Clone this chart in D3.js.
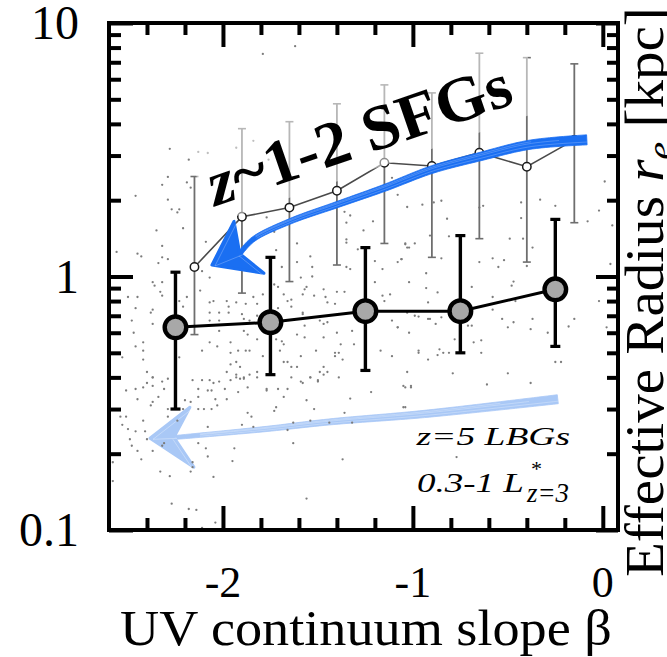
<!DOCTYPE html>
<html>
<head>
<meta charset="utf-8">
<script src="https://cdn.jsdelivr.net/npm/d3@7"></script>
<style>
  html, body { margin: 0; padding: 0; background: #fff; overflow: hidden; }
  svg { display: block; }
</style>
</head>
<body>
<svg id="chart" width="667" height="657"></svg>
<script>
// ---------------- data ----------------
// z=5 LBGs (0.3-1 L*), binned medians with 68% ranges
const lbgBeta = [-2.25, -1.75, -1.25, -0.75, -0.25];
const lbgRe   = [0.63, 0.66, 0.73, 0.73, 0.89];
const lbgHi   = [1.04, 1.19, 1.30, 1.45, 1.68];
const lbgLo   = [0.30, 0.41, 0.426, 0.50, 0.53];

// z~1-2 star-forming galaxies, binned medians with ranges
const sfgBeta = [-2.15, -1.9, -1.65, -1.4, -1.15, -0.9, -0.65, -0.4, -0.15];
const sfgRe   = [1.09, 1.72, 1.87, 2.18, 2.81, 2.73, 3.08, 2.71, 3.46];
const sfgHi   = [2.48, 3.83, 4.08, 4.80, 5.70, 5.30, 7.60, 7.30, 6.90];
const sfgLo   = [0.59, 0.86, 0.955, 1.11, 1.35, 1.19, 1.41, 1.14, 1.63];

// individual z~1-2 galaxies [beta, r_e]
const fieldGalaxies = [
  [-2.35,1.52],[-2.21,1.55],[-2.09,1.37],[-2.32,1.32],[-2.56,1.25],[-2.45,1.23],[-2.43,1.2],[-2.32,1.19],[-2.29,1.17],[-2.34,1.13],
  [-2.37,0.95],[-2.36,0.92],[-2.32,0.95],[-2.11,1.05],[-2.07,0.99],[-2.5,0.83],[-2.45,0.83],[-2.33,0.87],[-2.32,0.84],[-2.19,0.83],
  [-2.23,0.8],[-2.21,0.76],[-2.07,0.79],[-2.05,0.8],[-1.98,0.8],[-1.97,0.76],[-1.93,0.79],[-1.88,0.78],[-1.82,0.78],[-1.84,0.83],
  [-1.79,0.85],[-2.12,0.88],[-2.46,0.75],[-2.37,0.74],[-2.38,0.72],[-2.07,0.72],[-2.02,0.72],[-1.97,0.72],[-1.9,0.71],[-1.82,0.7],
  [-2.48,0.67],[-2.37,0.65],[-2.07,0.67],[-2.02,0.67],[-1.89,0.68],[-1.86,0.67],[-2.47,0.6],[-2.02,0.61],[-1.89,0.61],[-1.87,0.59],
  [-2.42,0.55],[-2.07,0.55],[-2.03,0.53],[-1.96,0.55],[-1.82,0.565],[-2.46,0.53],[-2.42,0.51],[-2.53,0.48],[-2.42,0.47],[-2.23,0.48],
  [-2.11,0.51],[-1.96,0.5],[-1.92,0.51],[-1.88,0.51],[-1.86,0.51],[-1.79,0.485],[-1.93,0.46],[-1.91,0.44],[-1.96,0.45],[-2.4,0.42],
  [-2.37,0.4],[-2.32,0.385],[-1.98,0.42],[-1.93,0.41],[-1.89,0.4],[-1.82,0.42],[-2.07,0.39],
  [-1.73,1.5],[-1.26,1.52],[-1.35,1.4],[-1.35,1.36],[-1.61,1.35],[-1.04,1.35],[-1.03,1.3],[-1.29,1.28],[-1.72,1.27],[-1.54,1.2],
  [-1.06,1.17],[-1.61,1.14],[-1.2,1.15],[-1.69,1.09],[-1.53,1.09],[-1.35,1.09],[-1.33,1.07],[-1.16,1.07],[-1.53,1.0],[-1.59,0.99],
  [-1.73,0.93],[-1.71,0.91],[-1.56,0.91],[-1.57,0.89],[-1.47,0.89],[-1.4,0.87],[-1.36,0.87],[-1.2,0.95],[-1.02,0.95],[-1.68,0.85],
  [-1.58,0.85],[-1.52,0.84],[-1.46,0.83],[-1.45,0.79],[-1.41,0.78],[-1.16,0.84],[-1.12,0.85],[-1.15,0.8],[-1.66,0.8],[-1.64,0.76],
  [-1.64,0.81],[-1.58,0.72],[-1.58,0.71],[-1.71,0.75],[-1.49,0.67],[-1.45,0.66],[-1.47,0.65],[-1.57,0.64],[-1.61,0.59],[-1.4,0.6],
  [-1.32,0.61],[-1.11,0.67],[-1.08,0.63],[-1.02,0.6],[-1.72,0.565],[-1.69,0.555],[-1.57,0.575],[-1.47,0.575],[-1.68,0.54],[-1.38,0.54],
  [-1.31,0.54],[-1.7,0.51],[-1.51,0.51],[-1.41,0.5],[-1.41,0.485],[-1.17,0.51],[-0.97,0.51],[-1.59,0.485],[-1.68,0.46],[-1.66,0.46],
  [-1.37,0.47],[-1.11,0.485],[-1.61,0.44],[-1.64,0.44],[-1.47,0.44],[-1.49,0.42],[-1.45,0.42],[-1.03,0.42],[-1.54,0.40],[-1.39,0.40],
  [-1.5,0.39],[-1.58,0.38],
  [-2.55,0.40],[-2.37,0.40],[-2.29,0.395],[-2.16,0.39],[-2.11,0.39],[-2.05,0.38],[-2.02,0.385],[-1.93,0.40],[-1.91,0.395],[-1.96,0.39],
  [-1.89,0.395],[-1.86,0.41],[-1.82,0.40],[-2.4,0.38],[-2.37,0.37],[-2.42,0.365],[-2.51,0.355],[-2.46,0.36],[-2.31,0.36],[-2.13,0.36],
  [-2.08,0.355],[-2.06,0.355],[-1.99,0.36],[-1.87,0.365],[-1.92,0.35],[-1.77,0.355],[-2.34,0.335],[-2.45,0.328],[-2.13,0.335],[-2.04,0.328],
  [-1.98,0.328],[-2.2,0.325],[-2.37,0.32],[-2.38,0.31],[-2.17,0.32],[-2.03,0.31],[-2.06,0.30],[-2.1,0.30],[-2.13,0.30],[-2.21,0.30],
  [-2.29,0.30],[-1.87,0.29],[-1.85,0.28],[-2.54,0.28],[-2.51,0.28],[-2.29,0.28],[-2.42,0.27],[-2.24,0.27],[-2.53,0.26],[-2.08,0.255],
  [-1.9,0.26],[-1.84,0.255],[-2.5,0.25],[-2.46,0.245],[-2.41,0.245],[-2.49,0.228],[-2.4,0.228],[-2.31,0.22],[-2.32,0.215],[-2.09,0.21],
  [-2.48,0.215],[-2.13,0.22],[-1.94,0.21],[-2.37,0.205],[-2.45,0.205],[-2.08,0.195],[-2.43,0.19],[-2.16,0.185],[-1.95,0.187],[-2.16,0.177],
  [-2.58,0.185],[-2.17,0.17],[-2.33,0.17],[-2.28,0.163],[-2.05,0.162],[-2.58,0.156],[-2.27,0.127],[-2.18,0.121],[-2.14,0.12],[-2.04,0.107],
  [-2.11,0.102],
  [-1.64,0.40],[-1.54,0.40],[-1.5,0.385],[-1.59,0.385],[-1.47,0.41],[-1.77,0.36],[-1.71,0.36],[-1.66,0.36],[-1.22,0.35],[-1.04,0.365],
  [-1.01,0.365],[-1.68,0.335],[-1.56,0.325],[-1.33,0.33],[-1.72,0.305],[-1.73,0.295],[-1.52,0.30],[-1.36,0.29],[-1.05,0.305],[-1.63,0.265],
  [-1.54,0.27],[-1.44,0.265],[-1.32,0.265],[-1.66,0.248],[-1.63,0.22],[-1.37,0.19],[-1.56,0.133],
  [-1.08,2.1],[-1.03,1.88],[-0.95,1.92],[-0.89,1.96],[-0.85,1.99],[-0.82,1.69],[-0.81,1.44],[-0.91,1.45],[-1.04,1.34],[-0.99,1.35],
  [-1.02,1.3],[-1.06,1.17],[-1.08,1.14],[-0.85,1.18],[-0.63,1.9],[-0.65,1.87],[-0.43,1.96],[-0.43,1.7],[-0.42,1.41],[-0.37,1.3],
  [-0.49,1.41],[-0.58,1.18],[-0.55,1.09],[-0.52,1.16],[-0.65,1.14],[-0.4,1.1],[-0.33,2.01],[-0.25,1.9],[-0.25,1.24],[-0.08,1.65],
  [-0.02,1.82],[0.01,2.37],[0.05,1.59],[0.04,1.12],[-0.93,1.03],[-0.93,0.9],[-0.87,0.865],[-0.92,0.79],[-1.03,0.72],[-0.99,0.70],
  [-0.97,0.695],[-0.92,0.68],[-0.91,0.68],[-0.88,0.65],[-0.85,0.69],[-1.08,0.63],[-0.97,0.50],[-0.92,0.47],[-1.05,0.37],[-1.01,0.37],
  [-0.86,0.516],[-0.84,0.5],[-0.81,0.5],[-0.87,0.49],[-0.78,0.565],[-0.71,0.64],[-0.69,0.64],[-0.68,0.55],[-0.64,0.56],[-0.64,0.5],
  [-0.79,0.415],[-0.69,0.91],[-0.58,0.83],[-0.58,0.74],[-0.53,0.68],[-0.5,0.63],[-0.47,0.66],[-0.48,0.92],[-0.47,0.955],[-0.46,0.8],
  [-0.38,0.62],[-0.37,0.68],[-0.29,0.60],[-0.25,0.46],[-0.22,0.46],[-0.18,0.635],[-0.15,0.68],[-0.02,0.8],[0.02,0.63],[-0.5,0.415],
  [-0.61,0.375],[-0.38,0.38],[-1.04,0.305],[-0.77,0.194],[-1.39,0.50],
  [-1.79,7.55],[-1.62,8.1],[-2.28,3.19],[-2.18,2.89],[-2.13,3.1],[-2.08,3.07],[-2.32,2.3],[-2.29,2.47],[-2.19,2.35],[-2.17,2.24],
  [-2.46,2.08],[-2.29,2.01],[-2.27,1.84],[-2.23,1.84],[-2.24,1.79],[-1.84,3.43],[-1.93,3.22],[-1.74,3.16],[-1.76,2.89],[-1.77,1.71],
  [-1.36,1.8],[-1.33,1.74],[-1.21,3.31],[-1.11,2.45],[-1.21,1.65],[-1.35,1.63]
];

// hand-drawn trend arrows, [beta, r_e] along the stroke, then the head outline
const sfgArrowShaft = [[-0.084,3.46],[-0.384,3.31],[-0.647,2.97],[-0.90,2.64],[-1.147,2.24],[-1.40,1.92],[-1.647,1.65],[-1.842,1.40],[-1.911,1.23]];
const sfgArrowHead  = [[-1.942,1.65],[-2.058,1.11],[-1.784,1.03],[-1.911,1.23]];
const lbgArrowShaft = [[-0.237,0.328],[-0.937,0.287],[-1.437,0.267],[-1.779,0.25],[-2.247,0.232]];
const lbgArrowHead  = [[-2.174,0.305],[-2.384,0.23],[-2.153,0.177],[-2.258,0.232]];

// axis ticks
const xMajorTicks = [-2, -1, 0];
const xTickLabels = ['-2', '-1', '0'];
const xMinorTicks = [-2.4, -2.2, -1.8, -1.6, -1.4, -1.2, -0.8, -0.6, -0.4, -0.2];
const yMajorTicks = [0.1, 1, 10];
const yTickLabels = ['0.1', '1', '10'];
const yMinorTicks = [0.2, 0.3, 0.4, 0.5, 0.6, 0.7, 0.8, 0.9, 2, 3, 4, 5, 6, 7, 8, 9];

// anchor of the rotated "z~1-2 SFGs" caption (baseline start) in data units
const sfgCaptionAt = [-2.04, 1.89];

// ---------------- layout ----------------
const SERIF = '"Liberation Serif", "Times New Roman", serif';
const plot = { left: 109, right: 618, top: 23, bottom: 530 };
const svg = d3.select('#chart');

const x = d3.scaleLinear().domain([-2.6, 0.08]).range([plot.left, plot.right]);
const y = d3.scaleLog().domain([0.1, 10]).range([plot.bottom, plot.top]);

svg.append('defs').append('clipPath').attr('id', 'plotclip')
  .append('rect').attr('x', plot.left).attr('y', plot.top)
  .attr('width', plot.right - plot.left).attr('height', plot.bottom - plot.top);

const inner = svg.append('g').attr('clip-path', 'url(#plotclip)');

// ---------- sketchy arrow helper ----------
function sketchArrow(layer, shaft, head, color, w0, w1, streak) {
  const pts = shaft.map(d => [x(d[0]), y(d[1])]);
  const centre = layer.append('path')
    .attr('d', d3.line().curve(d3.curveCatmullRom)(pts))
    .attr('fill', 'none').attr('stroke', 'none');
  const node = centre.node();
  const L = node.getTotalLength();
  const N = 80;
  const samples = [];
  for (let i = 0; i <= N; i++) {
    const t = i / N;
    const p = node.getPointAtLength(t * L);
    const a = node.getPointAtLength(Math.max(0, t * L - 0.6));
    const b = node.getPointAtLength(Math.min(L, t * L + 0.6));
    const dx = b.x - a.x, dy = b.y - a.y, len = Math.hypot(dx, dy) || 1;
    samples.push({ x: p.x, y: p.y, nx: -dy / len, ny: dx / len, w: w0 + (w1 - w0) * t });
  }
  const offsetLine = f => samples.map(s => [s.x + s.nx * s.w * f, s.y + s.ny * s.w * f]);
  const band = offsetLine(0.5).concat(offsetLine(-0.5).reverse());
  layer.append('path')
    .attr('d', d3.line()(band) + 'Z')
    .attr('fill', color).attr('stroke', color).attr('stroke-width', 0.8);
  // faint light streaks give the hand-drawn texture
  [-0.22, 0.12, 0.3].forEach((f, k) => {
    layer.append('path')
      .attr('d', d3.line().curve(d3.curveBasis)(offsetLine(f).slice(k * 6, N - 4)))
      .attr('fill', 'none').attr('stroke', streak)
      .attr('stroke-width', 0.7).attr('stroke-opacity', 0.4);
  });
  const hp = head.map(d => [x(d[0]), y(d[1])]);
  layer.append('path')
    .attr('d', d3.line()(hp) + 'Z')
    .attr('fill', color).attr('stroke', color)
    .attr('stroke-width', 3).attr('stroke-linejoin', 'round');
  // streaks through the head
  layer.append('path')
    .attr('d', d3.line()([hp[3], hp[1], hp[0]]))
    .attr('fill', 'none').attr('stroke', streak).attr('stroke-width', 0.7).attr('stroke-opacity', 0.45)
    .attr('transform', 'translate(3,1)');
  layer.append('path')
    .attr('d', d3.line()([hp[3], hp[2]]))
    .attr('fill', 'none').attr('stroke', streak).attr('stroke-width', 0.7).attr('stroke-opacity', 0.45)
    .attr('transform', 'translate(-1,2)');
}

// light blue arrow for the z=5 sample (under the points)
sketchArrow(inner.append('g'), lbgArrowShaft, lbgArrowHead, '#a9c8f6', 9, 4, '#ffffff');

// individual galaxies
inner.append('g').selectAll('circle').data(fieldGalaxies).join('circle')
  .attr('cx', d => x(d[0])).attr('cy', d => y(d[1]))
  .attr('r', 1.15).attr('fill', '#7c7c7c');

// ---------- z~1-2 SFG binned points ----------
const sfg = sfgBeta.map((b, i) => ({ b, r: sfgRe[i], hi: sfgHi[i], lo: sfgLo[i] }));
const gS = inner.append('g');
gS.selectAll('line.bar').data(sfg).join('line').attr('class', 'bar')
  .attr('x1', d => x(d.b)).attr('x2', d => x(d.b))
  .attr('y1', d => y(d.hi)).attr('y2', d => y(d.lo))
  .attr('stroke', '#6e6e6e').attr('stroke-width', 1.8);
['hi', 'lo'].forEach(k => {
  gS.selectAll('line.cap' + k).data(sfg).join('line').attr('class', 'cap' + k)
    .attr('x1', d => x(d.b) - 4).attr('x2', d => x(d.b) + 4)
    .attr('y1', d => y(d[k])).attr('y2', d => y(d[k]))
    .attr('stroke', '#6e6e6e').attr('stroke-width', 1.6);
});
gS.append('path').datum(sfg)
  .attr('d', d3.line().x(d => x(d.b)).y(d => y(d.r)))
  .attr('fill', 'none').attr('stroke', '#4a4a4a').attr('stroke-width', 1.6);
gS.selectAll('circle').data(sfg).join('circle')
  .attr('cx', d => x(d.b)).attr('cy', d => y(d.r)).attr('r', 4.2)
  .attr('fill', '#fff').attr('stroke', '#1a1a1a').attr('stroke-width', 1.5);

// ---------- z=5 LBG binned points ----------
const lbg = lbgBeta.map((b, i) => ({ b, r: lbgRe[i], hi: lbgHi[i], lo: lbgLo[i] }));
const gL = inner.append('g');
gL.selectAll('line.bar').data(lbg).join('line').attr('class', 'bar')
  .attr('x1', d => x(d.b)).attr('x2', d => x(d.b))
  .attr('y1', d => y(d.hi)).attr('y2', d => y(d.lo))
  .attr('stroke', '#000').attr('stroke-width', 3.4);
['hi', 'lo'].forEach(k => {
  gL.selectAll('line.cap' + k).data(lbg).join('line').attr('class', 'cap' + k)
    .attr('x1', d => x(d.b) - 5).attr('x2', d => x(d.b) + 5)
    .attr('y1', d => y(d[k])).attr('y2', d => y(d[k]))
    .attr('stroke', '#000').attr('stroke-width', 3.2);
});
gL.append('path').datum(lbg)
  .attr('d', d3.line().x(d => x(d.b)).y(d => y(d.r)))
  .attr('fill', 'none').attr('stroke', '#000').attr('stroke-width', 3);
gL.selectAll('circle').data(lbg).join('circle')
  .attr('cx', d => x(d.b)).attr('cy', d => y(d.r)).attr('r', 10.8)
  .attr('fill', '#a8a8a8').attr('stroke', '#000').attr('stroke-width', 4.4);

// ---------- rotated SFG caption on a translucent backing ----------
const cap = inner.append('g')
  .attr('transform', `translate(${x(sfgCaptionAt[0])},${y(sfgCaptionAt[1])}) rotate(-19)`);
cap.append('rect').attr('x', -8).attr('y', -76).attr('width', 352).attr('height', 92)
  .attr('fill', '#fff').attr('fill-opacity', 0.5);
const capText = cap.append('text')
  .attr('font-family', SERIF).attr('font-weight', 'bold').attr('font-size', 64).attr('fill', '#000');
capText.append('tspan').attr('font-style', 'italic').text('z');
capText.append('tspan').text('~1-2 SFGs');
capText.attr('transform', `scale(${320 / capText.node().getBBox().width},1)`);

// dark blue arrow for the z~1-2 sample (on top)
sketchArrow(inner.append('g'), sfgArrowShaft, sfgArrowHead, '#1a6ff2', 10, 4.5, '#cfe0ff');

// ---------- frame and ticks ----------
function ticks(gen, tf) {
  const g = svg.append('g').attr('transform', tf).call(gen);
  g.select('.domain').remove();
  g.selectAll('.tick text').remove();
  g.selectAll('.tick line').attr('stroke', '#000').attr('stroke-width', 4);
}
ticks(d3.axisBottom(x).tickValues(xMajorTicks).tickSize(-24), `translate(0,${plot.bottom})`);
ticks(d3.axisBottom(x).tickValues(xMinorTicks).tickSize(-12), `translate(0,${plot.bottom})`);
ticks(d3.axisTop(x).tickValues(xMajorTicks).tickSize(-24), `translate(0,${plot.top})`);
ticks(d3.axisTop(x).tickValues(xMinorTicks).tickSize(-12), `translate(0,${plot.top})`);
ticks(d3.axisLeft(y).tickValues(yMajorTicks).tickSize(-24), `translate(${plot.left},0)`);
ticks(d3.axisLeft(y).tickValues(yMinorTicks).tickSize(-12), `translate(${plot.left},0)`);
ticks(d3.axisRight(y).tickValues(yMajorTicks).tickSize(-22), `translate(${plot.right},0)`);
ticks(d3.axisRight(y).tickValues(yMinorTicks).tickSize(-11), `translate(${plot.right},0)`);

svg.append('rect')
  .attr('x', plot.left).attr('y', plot.top)
  .attr('width', plot.right - plot.left).attr('height', plot.bottom - plot.top)
  .attr('fill', 'none').attr('stroke', '#000').attr('stroke-width', 4);

// ---------- tick labels ----------
svg.append('g').selectAll('text').data(xMajorTicks).join('text')
  .attr('x', d => x(d)).attr('y', 597)
  .attr('text-anchor', 'middle').attr('font-family', SERIF).attr('font-size', 44)
  .text((d, i) => xTickLabels[i]);
svg.append('g').selectAll('text').data(yMajorTicks).join('text')
  .attr('x', 79).attr('y', d => y(d) + 16)
  .attr('text-anchor', 'end').attr('font-family', SERIF).attr('font-size', 48)
  .text((d, i) => yTickLabels[i]);

// ---------- axis titles ----------
function fitted(g, target) {
  const w = g.node().getBBox().width;
  g.attr('transform', `scale(${target / w},1)`);
}
const xt = svg.append('g').attr('transform', 'translate(366,645)')
  .append('text').attr('text-anchor', 'middle')
  .attr('font-family', SERIF).attr('font-size', 50).text('UV continuum slope β');
fitted(xt, 492);

const yt = svg.append('g').attr('transform', 'translate(663,577) rotate(-90)')
  .append('text').attr('font-family', SERIF).attr('font-size', 54);
yt.append('tspan').text('Effective Radius ');
yt.append('tspan').attr('font-style', 'italic').text('r');
yt.append('tspan').attr('font-style', 'italic').attr('font-size', 38).attr('dy', 10).text('e');
yt.append('tspan').attr('dy', -10).text(' [kpc]');
fitted(yt, 570);

// ---------- sample caption ----------
const c1 = svg.append('g').attr('transform', 'translate(570,445)')
  .append('text').attr('text-anchor', 'end').attr('font-family', SERIF)
  .attr('font-style', 'italic').attr('font-size', 26).text('z=5 LBGs');
fitted(c1, 155);

const c2 = svg.append('g').attr('transform', 'translate(417,492)')
  .append('text').attr('font-family', SERIF)
  .attr('font-style', 'italic').attr('font-size', 28).text('0.3-1 L');
fitted(c2, 107);
svg.append('text').attr('x', 530).attr('y', 476).attr('font-family', SERIF)
  .attr('font-style', 'italic').attr('font-size', 22).text('*');
const c3 = svg.append('g').attr('transform', 'translate(527,502)')
  .append('text').attr('font-family', SERIF)
  .attr('font-style', 'italic').attr('font-size', 27).text('z=3');
fitted(c3, 43);
</script>
</body>
</html>
